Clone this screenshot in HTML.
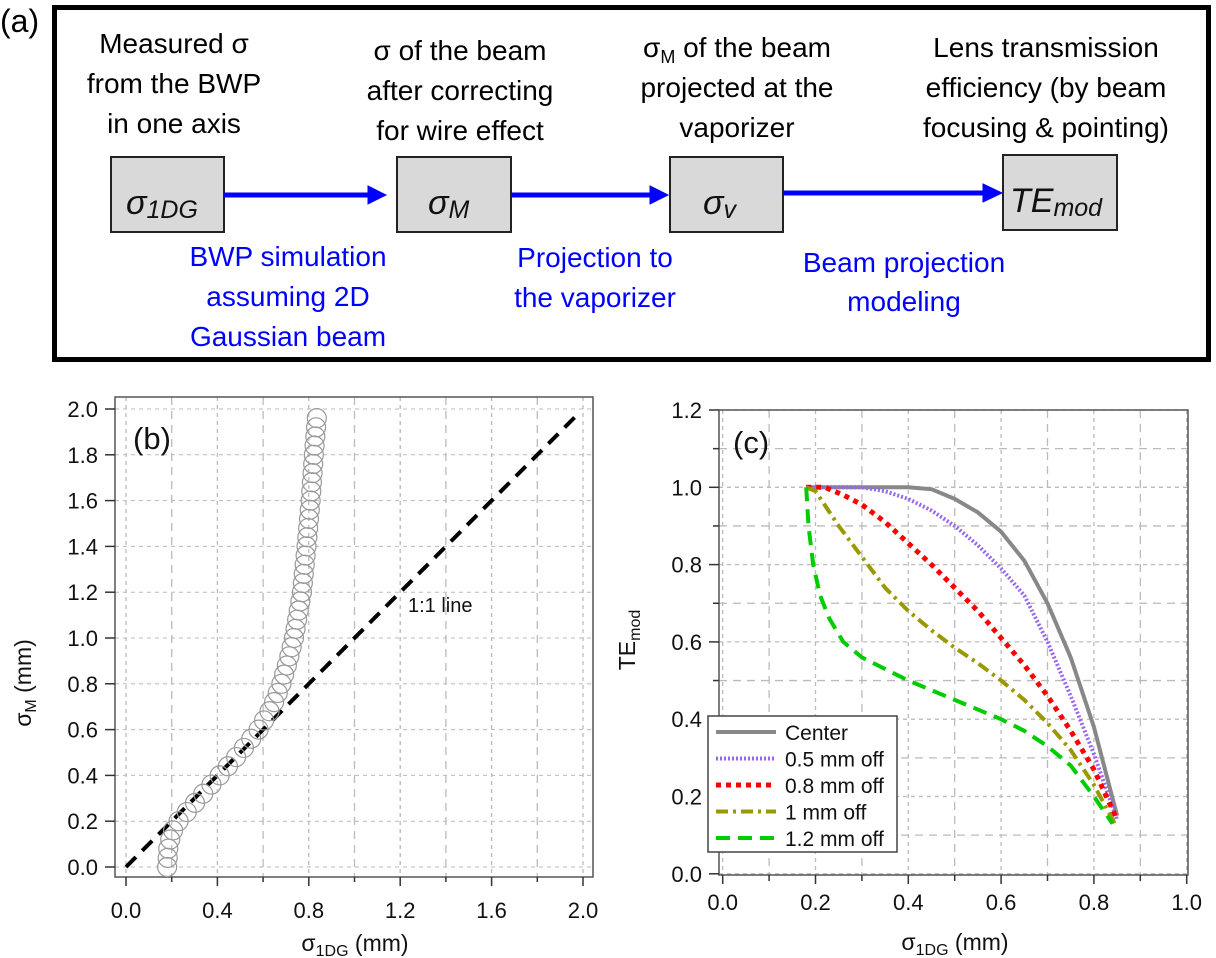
<!DOCTYPE html>
<html><head><meta charset="utf-8"><style>
html,body{margin:0;padding:0;background:#fff;}
svg{display:block;}
text{font-family:"Liberation Sans",sans-serif;}
.cal{font-family:"Liberation Sans",sans-serif;font-size:28px;}
.ser{font-family:"Liberation Serif",serif;font-style:italic;}
.tk{font-size:22px;fill:#111;}
</style></head><body>
<svg id="s" width="1216" height="958" viewBox="0 0 1216 958" xmlns="http://www.w3.org/2000/svg">
<text x="0" y="32" font-size="32" fill="#000">(a)</text>
<rect x="54.5" y="7.5" width="1154" height="352" fill="none" stroke="#000" stroke-width="5"/>
<g class="cal" text-anchor="middle" fill="#000">
<text x="174" y="53">Measured σ</text><text x="174" y="93">from the BWP</text><text x="174" y="133">in one axis</text>
<text x="460" y="60">σ of the beam</text><text x="460" y="100">after correcting</text><text x="460" y="140">for wire effect</text>
<text x="737" y="57">σ<tspan font-size="18" dy="6">M</tspan><tspan dy="-6"> of the beam</tspan></text><text x="737" y="97">projected at the</text><text x="737" y="137">vaporizer</text>
<text x="1046" y="57">Lens transmission</text><text x="1046" y="97">efficiency (by beam</text><text x="1046" y="137">focusing &amp; pointing)</text>
</g>
<g class="cal" text-anchor="middle" fill="#0000ff">
<text x="288" y="266">BWP simulation</text><text x="288" y="306">assuming 2D</text><text x="288" y="346">Gaussian beam</text>
<text x="595" y="267">Projection to</text><text x="595" y="307">the vaporizer</text>
<text x="904" y="272">Beam projection</text><text x="904" y="311">modeling</text>
</g>
<g fill="#d9d9d9" stroke="#222" stroke-width="2">
<rect x="111" y="157" width="113" height="75"/><rect x="397" y="157" width="114" height="75"/>
<rect x="670" y="157" width="113" height="75"/><rect x="1003" y="155" width="114" height="75"/>
</g>
<g fill="#0000ff" stroke="#0000ff" stroke-width="5">
<line x1="224" y1="195" x2="370" y2="195"/><polygon points="368,186 386,195 368,204" stroke-width="1"/>
<line x1="511" y1="195" x2="652" y2="195"/><polygon points="650,186 668,195 650,204" stroke-width="1"/>
<line x1="783" y1="193" x2="985" y2="193"/><polygon points="983,184 1002,193 983,202" stroke-width="1"/>
</g>
<g class="ser" fill="#111" font-size="34">
<text x="126" y="214">σ<tspan font-size="25" dy="4">1DG</tspan></text>
<text x="428" y="214">σ<tspan font-size="25" dy="4">M</tspan></text>
<text x="703" y="214">σ<tspan font-size="25" dy="4">v</tspan></text>
<text x="1010" y="212">TE<tspan font-size="25" dy="4">mod</tspan></text>
</g>
<g id="pb"></g><g id="pc"></g>
</svg>
<script>
var NS="http://www.w3.org/2000/svg";
function el(p,t,a,txt){var e=document.createElementNS(NS,t);for(var k in a)e.setAttribute(k,a[k]);if(txt!==undefined)e.textContent=txt;p.appendChild(e);return e;}
// Panel b
var pb=document.getElementById('pb');
function bx(v){return 126+v*228.5;} function by(v){return 867-v*229;}
var L=115,R=593,T=397,B=877;
for(var i=0;i<=10;i++){var v=i*0.2;
 el(pb,'line',{x1:L,x2:R,y1:by(v),y2:by(v),stroke:'#bbb','stroke-width':1,'stroke-dasharray':'4,4'});
 el(pb,'line',{y1:T,y2:B,x1:bx(v),x2:bx(v),stroke:'#bbb','stroke-width':1.3,'stroke-dasharray':(i%2?'8,6':'4,4')});
}
el(pb,'rect',{x:L,y:T,width:R-L,height:B-T,fill:'none',stroke:'#555','stroke-width':1.5});
for(var i=0;i<=10;i++){var v=i*0.2;
 el(pb,'line',{x1:L-10,x2:L,y1:by(v),y2:by(v),stroke:'#333','stroke-width':1.5});
 el(pb,'text',{x:98,y:by(v)+8,'text-anchor':'end','class':'tk'},v.toFixed(1));
 el(pb,'line',{x1:bx(v),x2:bx(v),y1:B,y2:B+(i%2?5:9),stroke:'#333','stroke-width':1.5});
 if(i%2==0) el(pb,'text',{x:bx(v),y:918,'text-anchor':'middle','class':'tk'},v.toFixed(1));
}
el(pb,'text',{x:133,y:449,'font-size':31,fill:'#111'},'(b)');
var xl=el(pb,'text',{x:355,y:951,'text-anchor':'middle','font-size':23,fill:'#111'});
xl.innerHTML='σ<tspan font-size="16" dy="5">1DG</tspan><tspan dy="-5"> (mm)</tspan>';
var yl=el(pb,'text',{transform:'translate(31,683) rotate(-90)','text-anchor':'middle','font-size':23,fill:'#111'});
yl.innerHTML='σ<tspan font-size="16" dy="5">M</tspan><tspan dy="-5"> (mm)</tspan>';
el(pb,'line',{x1:bx(0),y1:by(0),x2:bx(1.97),y2:by(1.97),stroke:'#000','stroke-width':4,'stroke-dasharray':'14,9'});
el(pb,'text',{x:408,y:612,'font-size':20,fill:'#111'},'1:1 line');
var K=[[0,0.18],[0.08,0.185],[0.15,0.2],[0.2,0.23],[0.3,0.32],[0.4,0.41],[0.5,0.5],[0.6,0.58],[0.7,0.64],[0.8,0.68],[0.9,0.71],[1.0,0.735],[1.2,0.77],[1.4,0.79],[1.6,0.808],[1.8,0.822],[1.96,0.835]];
function interp(K,y){for(var j=0;j<K.length-1;j++){if(y<=K[j+1][0]){var t=(y-K[j][0])/(K[j+1][0]-K[j][0]);return K[j][1]+t*(K[j+1][1]-K[j][1]);}}return K[K.length-1][1];}
for(var y=0;y<=1.961;y+=0.04){el(pb,'circle',{cx:bx(interp(K,y)),cy:by(y),r:9.5,fill:'none',stroke:'#999','stroke-width':1.2});}
// Panel c
var pc=document.getElementById('pc');
function cx(v){return 722.7+v*464;} function cy(v){return 873.8-v*386.5;}
var L2=719,R2=1188,T2=410,B2=875;
for(var i=0;i<=12;i++){var v=i*0.1;
 el(pc,'line',{x1:L2,x2:R2,y1:cy(v),y2:cy(v),stroke:'#bbb','stroke-width':1.3,'stroke-dasharray':(i%2?'8,6':'4,4')});
}
for(var i=0;i<=10;i++){var v=i*0.1;
 el(pc,'line',{y1:T2,y2:B2,x1:cx(v),x2:cx(v),stroke:'#bbb','stroke-width':1.3,'stroke-dasharray':(i%2?'8,6':'4,4')});
}
el(pc,'rect',{x:L2,y:T2,width:R2-L2,height:B2-T2,fill:'none',stroke:'#555','stroke-width':1.5});
for(var i=0;i<=12;i++){var v=i*0.1;
 el(pc,'line',{x1:L2-(i%2?6:10),x2:L2,y1:cy(v),y2:cy(v),stroke:'#333','stroke-width':1.5});
 if(i%2==0) el(pc,'text',{x:702,y:cy(v)+8,'text-anchor':'end','class':'tk'},v.toFixed(1));
}
for(var i=0;i<=10;i++){var v=i*0.1;
 el(pc,'line',{x1:cx(v),x2:cx(v),y1:B2,y2:B2+(i%2?6:9),stroke:'#333','stroke-width':1.5});
 if(i%2==0) el(pc,'text',{x:cx(v),y:910,'text-anchor':'middle','class':'tk'},v.toFixed(1));
}
el(pc,'text',{x:733,y:453,'font-size':31,fill:'#111'},'(c)');
var xl2=el(pc,'text',{x:955,y:950,'text-anchor':'middle','font-size':23,fill:'#111'});
xl2.innerHTML='σ<tspan font-size="16" dy="5">1DG</tspan><tspan dy="-5"> (mm)</tspan>';
var yl2=el(pc,'text',{transform:'translate(635,640) rotate(-90)','text-anchor':'middle','font-size':23,fill:'#111'});
yl2.innerHTML='TE<tspan font-size="16" dy="5">mod</tspan>';
var S=[
 {c:'#888',w:4,d:'',p:[[0.18,1],[0.3,1],[0.4,1],[0.45,0.995],[0.5,0.97],[0.55,0.935],[0.6,0.885],[0.65,0.81],[0.7,0.7],[0.75,0.56],[0.8,0.38],[0.85,0.15]]},
 {c:'#9966ee',w:4,d:'2,2',p:[[0.18,1],[0.3,1],[0.35,0.99],[0.4,0.97],[0.45,0.94],[0.5,0.9],[0.55,0.85],[0.6,0.79],[0.65,0.72],[0.7,0.6],[0.75,0.46],[0.8,0.31],[0.85,0.14]]},
 {c:'#ff0000',w:5,d:'5,5',p:[[0.18,1],[0.22,1],[0.26,0.98],[0.3,0.955],[0.35,0.91],[0.4,0.855],[0.45,0.8],[0.5,0.74],[0.55,0.68],[0.6,0.61],[0.65,0.54],[0.7,0.46],[0.75,0.37],[0.8,0.27],[0.85,0.14]]},
 {c:'#999900',w:4,d:'12,5,3,5',p:[[0.18,1],[0.2,0.99],[0.25,0.9],[0.3,0.82],[0.35,0.74],[0.4,0.68],[0.45,0.63],[0.5,0.585],[0.55,0.545],[0.6,0.5],[0.65,0.45],[0.7,0.39],[0.75,0.32],[0.8,0.23],[0.845,0.13]]},
 {c:'#00cc00',w:4,d:'14,8',p:[[0.18,1],[0.185,0.9],[0.195,0.8],[0.21,0.72],[0.23,0.66],[0.26,0.6],[0.3,0.56],[0.35,0.53],[0.4,0.5],[0.5,0.45],[0.6,0.4],[0.65,0.37],[0.7,0.33],[0.75,0.28],[0.8,0.2],[0.84,0.13]]}
];
S.forEach(function(s){var pts=s.p.map(function(q){return cx(q[0]).toFixed(1)+','+cy(q[1]).toFixed(1);}).join(' ');
 el(pc,'polyline',{points:pts,fill:'none',stroke:s.c,'stroke-width':s.w,'stroke-dasharray':s.d,'stroke-linejoin':'round'});});
el(pc,'rect',{x:708,y:716,width:189,height:136,fill:'#fff',stroke:'#444','stroke-width':1.5});
var labs=['Center','0.5 mm off','0.8 mm off','1 mm off','1.2 mm off'];
S.forEach(function(s,i){var y=732+i*26.5;
 el(pc,'line',{x1:716,x2:776,y1:y,y2:y,stroke:s.c,'stroke-width':s.w,'stroke-dasharray':s.d});
 el(pc,'text',{x:785,y:y+8,'font-size':21,fill:'#111'},labs[i]);});
</script>
</body></html>
